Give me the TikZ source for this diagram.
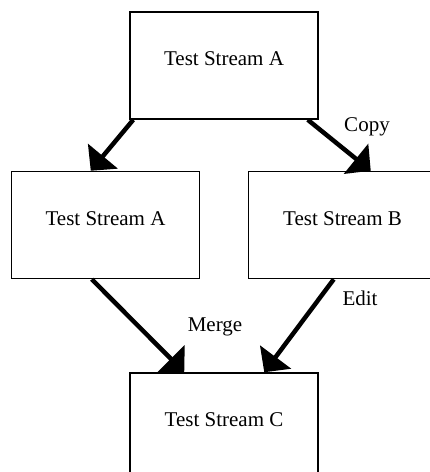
\documentclass[tikz,border=0pt]{standalone}
\usepackage{fontspec}
\setmainfont{Liberation Serif}
\usetikzlibrary{arrows.meta}

\begin{document}
\begin{tikzpicture}[x=1pt, y=-1pt,
		stream/.style={draw, fill=white, line width=1.5pt, minimum width=188pt, minimum height=107pt, inner sep=0pt, text height=15pt, text depth=15pt, font=\fontsize{21}{25}\selectfont},
		flow/.style={line width=4.5pt, -{Triangle[length=19pt, width=38pt]}},
		tag/.style={font=\fontsize{21}{25}\selectfont}]
		%%%%% START %%%%%
		
		\clip (0, 0) rectangle (430, 472);
		
		\node[stream] (srcA) at (224, 65.5) {Test Stream A};
		\node[stream] (cpyA) at (105.5, 225) {Test Stream A};
		\node[stream] (strB) at (342.5, 225) {Test Stream B};
		\node[stream] (strC) at (224, 426.5) {Test Stream C};
		
		\draw[flow] ([xshift=4pt]srcA.south west) -- ([xshift=80pt]cpyA.north west);
		\draw[flow] ([xshift=-11pt]srcA.south east) -- ([xshift=123pt]strB.north west);
		\draw[flow] ([xshift=81pt]cpyA.south west) -- ([xshift=55pt]strC.north west);
		\draw[flow] ([xshift=86pt]strB.south west) -- ([xshift=135pt]strC.north west);
		
		\node[tag] (copy) at (367, 127) {Copy};
		\node[tag] (merge) at (215, 327) {Merge};
		\node[tag] (edit) at (360, 298) {Edit};
		
		%%%%% END %%%%%
	\end{tikzpicture}
\end{document}
